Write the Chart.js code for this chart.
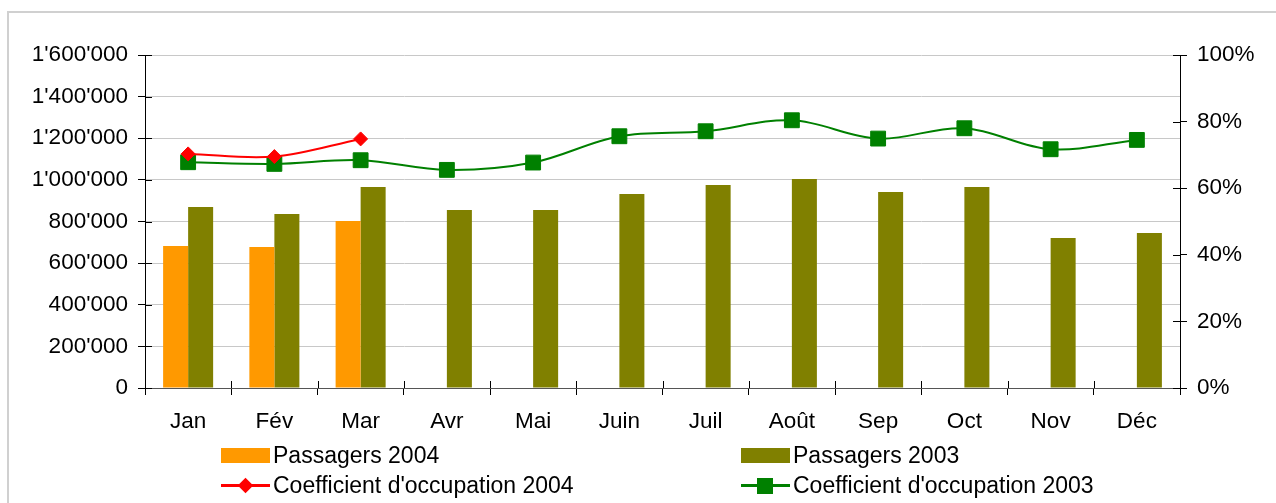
<!DOCTYPE html>
<html>
<head>
<meta charset="utf-8">
<script src="https://cdn.jsdelivr.net/npm/chart.js@4"></script>
<style>
body { margin: 0; background: #fff; font-family: "Liberation Sans", Arial, sans-serif; }
#wrap { position: relative; width: 1276px; height: 503px; overflow: hidden; }
#frame { position: absolute; left: 7px; top: 11px; width: 1320px; height: 540px; border: 2px solid #d0d0d0; }
#chart { position: absolute; left: 0; top: 0; }
.leg { position: absolute; display: flex; align-items: center; height: 26px; font-size: 23px; color: #000; white-space: nowrap; }
.icon { position: relative; width: 49px; height: 15px; margin-right: 3px; }
.icon .ln { position: absolute; left: 0; right: 0; top: 6px; height: 3px; }
.icon .mk { position: absolute; }
</style>
</head>
<body>
<div id="wrap">
  <div id="frame"></div>
  <canvas id="chart" width="1276" height="503"></canvas>
  <div id="legend"></div>
</div>
<script>
const months = ['Jan', 'Fév', 'Mar', 'Avr', 'Mai', 'Juin', 'Juil', 'Août', 'Sep', 'Oct', 'Nov', 'Déc'];
const passagers2004 = [682000, 677000, 802000, null, null, null, null, null, null, null, null, null];
const passagers2003 = [870000, 836000, 966000, 855000, 855000, 932000, 975000, 1004000, 942000, 966000, 721000, 745000];
const coef2004 = [70.3, 69.5, 74.8, null, null, null, null, null, null, null, null, null];
const coef2003 = [67.8, 67.3, 68.4, 65.5, 67.7, 75.6, 77.1, 80.4, 74.9, 78.0, 71.7, 74.5];
const leftTicks = [0, 200000, 400000, 600000, 800000, 1000000, 1200000, 1400000, 1600000];
const rightTicks = [0, 20, 40, 60, 80, 100];

function fmt(v) {
    return String(v).replace(/\B(?=(\d{3})+(?!\d))/g, "'");
}

// tick marks that cross the axis (Chart.js only draws the outer half)
const innerTicks = {
    id: 'innerTicks',
    afterDatasetsDraw(chart) {
        const {ctx, chartArea: a, scales} = chart;
        ctx.save();
        ctx.strokeStyle = '#000';
        ctx.lineWidth = 1;
        ctx.beginPath();
        scales.y.ticks.forEach((t, i) => {
            const py = Math.round(scales.y.getPixelForTick(i)) + 0.5;
            ctx.moveTo(a.left, py); ctx.lineTo(a.left + 7, py);
        });
        scales.y1.ticks.forEach((t, i) => {
            const py = Math.round(scales.y1.getPixelForTick(i)) + 0.5;
            ctx.moveTo(a.right, py); ctx.lineTo(a.right - 7, py);
        });
        const w = (scales.x.right - scales.x.left) / months.length;
        for (let k = 0; k <= months.length; k++) {
            const px = Math.round(scales.x.left + k * w) + 0.5;
            ctx.moveTo(px, a.bottom); ctx.lineTo(px, a.bottom - 7);
        }
        ctx.stroke();
        ctx.restore();
    }
};

const font = {family: '"Liberation Sans", Arial, sans-serif', size: 22.5};

const chart = new Chart(document.getElementById('chart').getContext('2d'), {
    type: 'bar',
    data: {
        labels: months,
        datasets: [
            {type: 'bar', label: 'Passagers 2004', data: passagers2004, backgroundColor: '#ff9900', yAxisID: 'y', order: 2,
             categoryPercentage: 0.58, barPercentage: 1.0},
            {type: 'bar', label: 'Passagers 2003', data: passagers2003, backgroundColor: '#808000', yAxisID: 'y', order: 2,
             categoryPercentage: 0.58, barPercentage: 1.0},
            {type: 'line', label: "Coefficient d'occupation 2004", data: coef2004, yAxisID: 'y1', order: 0,
             borderColor: '#ff0000', backgroundColor: '#ff0000', borderWidth: 2, tension: 0.35,
             pointStyle: 'rectRot', pointRadius: 7, pointBorderWidth: 1, pointBackgroundColor: '#ff0000', pointBorderColor: '#ff0000'},
            {type: 'line', label: "Coefficient d'occupation 2003", data: coef2003, yAxisID: 'y1', order: 1,
             borderColor: '#008000', backgroundColor: '#008000', borderWidth: 2, tension: 0.35,
             pointStyle: 'rect', pointRadius: 10.5, pointBorderWidth: 1, pointBackgroundColor: '#008000', pointBorderColor: '#008000'}
        ]
    },
    options: {
        responsive: false,
        animation: false,
        layout: {padding: {top: 55, left: 0, right: 0, bottom: 0}},
        plugins: {legend: {display: false}, tooltip: {enabled: false}},
        scales: {
            x: {
                grid: {offset: true, drawOnChartArea: false, tickLength: 7, tickColor: '#000'},
                border: {color: '#555', width: 1},
                ticks: {font: font, color: '#000', padding: 13},
                afterFit(s) { s.height = 115; }
            },
            y: {
                position: 'left', min: 0, max: 1600000,
                afterBuildTicks(s) { s.ticks = leftTicks.map(v => ({value: v})); },
                grid: {color: '#c8c8c8', tickLength: 7, tickColor: '#000'},
                border: {color: '#000', width: 1},
                ticks: {font: font, color: '#000', padding: 10, callback: v => fmt(v)},
                afterFit(s) { s.width = 145; }
            },
            y1: {
                position: 'right', min: 0, max: 100,
                afterBuildTicks(s) { s.ticks = rightTicks.map(v => ({value: v})); },
                grid: {drawOnChartArea: false, tickLength: 7, tickColor: '#000'},
                border: {color: '#000', width: 1},
                ticks: {font: font, color: '#000', padding: 10, callback: v => v + '%'},
                afterFit(s) { s.width = 96; }
            }
        }
    },
    plugins: [innerTicks]
});

// legend laid out as in the original: two columns, two rows
const legendPos = [
    {ds: 0, left: 221, top: 442},
    {ds: 1, left: 741, top: 442},
    {ds: 2, left: 221, top: 472},
    {ds: 3, left: 741, top: 472}
];
const legend = document.getElementById('legend');
legendPos.forEach(p => {
    const ds = chart.data.datasets[p.ds];
    const item = document.createElement('div');
    item.className = 'leg';
    item.style.left = p.left + 'px';
    item.style.top = p.top + 'px';
    const icon = document.createElement('span');
    icon.className = 'icon';
    if (ds.type === 'bar') {
        icon.style.background = ds.backgroundColor;
    } else {
        const ln = document.createElement('span');
        ln.className = 'ln';
        ln.style.background = ds.borderColor;
        icon.appendChild(ln);
        const mk = document.createElement('span');
        mk.className = 'mk';
        mk.style.background = ds.borderColor;
        if (ds.pointStyle === 'rectRot') {
            mk.style.width = '11px'; mk.style.height = '11px';
            mk.style.left = '19px'; mk.style.top = '2px';
            mk.style.transform = 'rotate(45deg)';
        } else {
            mk.style.width = '16px'; mk.style.height = '16px';
            mk.style.left = '16px'; mk.style.top = '0px';
        }
        icon.appendChild(mk);
    }
    item.appendChild(icon);
    const txt = document.createElement('span');
    txt.textContent = ds.label;
    item.appendChild(txt);
    legend.appendChild(item);
});
</script>
</body>
</html>
